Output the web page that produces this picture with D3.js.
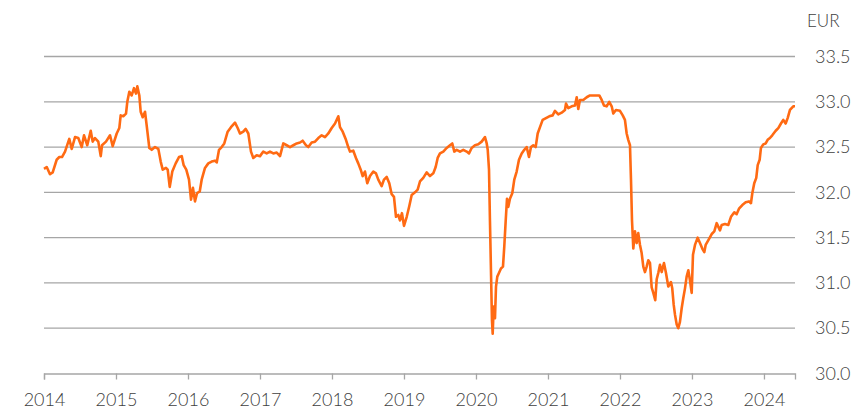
<!DOCTYPE html>
<html>
<head>
<meta charset="utf-8">
<script src="https://cdn.jsdelivr.net/npm/d3@7"></script>
<style>
  body { margin: 0; background: #fff; }
  text { font-family: Lato, "Open Sans", sans-serif; font-weight: 300; fill: #404040; }
</style>
</head>
<body>
<script>
var width = 868;
var height = 412;

// decimal year of each reading
var years = [
  2014.000, 2014.038, 2014.083, 2014.121, 2014.176, 2014.213, 2014.250, 2014.292, 2014.351, 2014.385,
  2014.431, 2014.476, 2014.524, 2014.556, 2014.601, 2014.649, 2014.676, 2014.708, 2014.754, 2014.788,
  2014.806, 2014.861, 2014.917, 2014.954, 2015.010, 2015.046, 2015.065, 2015.101, 2015.139, 2015.157,
  2015.185, 2015.218, 2015.250, 2015.278, 2015.296, 2015.324, 2015.343, 2015.371, 2015.403, 2015.426,
  2015.463, 2015.496, 2015.542, 2015.588, 2015.621, 2015.649, 2015.694, 2015.718, 2015.746, 2015.782,
  2015.829, 2015.875, 2015.913, 2015.940, 2015.976, 2016.014, 2016.042, 2016.069, 2016.097, 2016.125,
  2016.163, 2016.190, 2016.236, 2016.282, 2016.329, 2016.375, 2016.399, 2016.431, 2016.468, 2016.504,
  2016.551, 2016.597, 2016.653, 2016.690, 2016.722, 2016.768, 2016.801, 2016.838, 2016.875, 2016.907,
  2016.954, 2017.000, 2017.046, 2017.093, 2017.139, 2017.185, 2017.232, 2017.278, 2017.324, 2017.371,
  2017.417, 2017.463, 2017.510, 2017.556, 2017.593, 2017.639, 2017.671, 2017.718, 2017.764, 2017.810,
  2017.857, 2017.903, 2017.949, 2017.996, 2018.042, 2018.088, 2018.111, 2018.149, 2018.194, 2018.226,
  2018.250, 2018.296, 2018.333, 2018.365, 2018.399, 2018.426, 2018.458, 2018.490, 2018.528, 2018.574,
  2018.611, 2018.643, 2018.690, 2018.722, 2018.760, 2018.796, 2018.829, 2018.861, 2018.889, 2018.921,
  2018.944, 2018.972, 2019.000, 2019.038, 2019.074, 2019.107, 2019.153, 2019.190, 2019.222, 2019.268,
  2019.315, 2019.361, 2019.407, 2019.440, 2019.468, 2019.500, 2019.546, 2019.593, 2019.639, 2019.671,
  2019.699, 2019.732, 2019.778, 2019.824, 2019.871, 2019.903, 2019.940, 2019.986, 2020.032, 2020.079,
  2020.125, 2020.149, 2020.163, 2020.181, 2020.194, 2020.208, 2020.222, 2020.232, 2020.246, 2020.264,
  2020.278, 2020.296, 2020.319, 2020.347, 2020.375, 2020.393, 2020.413, 2020.431, 2020.449, 2020.472,
  2020.504, 2020.532, 2020.565, 2020.597, 2020.635, 2020.671, 2020.704, 2020.736, 2020.764, 2020.796,
  2020.829, 2020.857, 2020.889, 2020.926, 2020.972, 2021.018, 2021.065, 2021.097, 2021.143, 2021.190,
  2021.236, 2021.250, 2021.282, 2021.329, 2021.375, 2021.399, 2021.421, 2021.444, 2021.490, 2021.538,
  2021.583, 2021.629, 2021.676, 2021.713, 2021.746, 2021.778, 2021.815, 2021.851, 2021.885, 2021.907,
  2021.944, 2022.000, 2022.038, 2022.069, 2022.093, 2022.115, 2022.139, 2022.153, 2022.167, 2022.185,
  2022.208, 2022.232, 2022.254, 2022.278, 2022.301, 2022.324, 2022.347, 2022.371, 2022.393, 2022.417,
  2022.440, 2022.463, 2022.490, 2022.510, 2022.532, 2022.556, 2022.579, 2022.611, 2022.639, 2022.671,
  2022.708, 2022.726, 2022.746, 2022.764, 2022.788, 2022.810, 2022.833, 2022.857, 2022.879, 2022.903,
  2022.926, 2022.949, 2022.972, 2022.996, 2023.014, 2023.042, 2023.079, 2023.111, 2023.143, 2023.171,
  2023.190, 2023.226, 2023.274, 2023.310, 2023.343, 2023.389, 2023.413, 2023.458, 2023.504, 2023.542,
  2023.588, 2023.621, 2023.653, 2023.699, 2023.746, 2023.792, 2023.819, 2023.838, 2023.865, 2023.893,
  2023.913, 2023.940, 2023.958, 2023.990, 2024.024, 2024.051, 2024.083, 2024.115, 2024.163, 2024.199,
  2024.236, 2024.268, 2024.301, 2024.329, 2024.361, 2024.407, 2024.431
];

// price in EUR
var prices = [
  32.26, 32.28, 32.20, 32.22, 32.36, 32.39, 32.39, 32.45, 32.59, 32.48,
  32.61, 32.60, 32.50, 32.63, 32.52, 32.68, 32.56, 32.60, 32.56, 32.40,
  32.52, 32.56, 32.63, 32.51, 32.65, 32.71, 32.85, 32.84, 32.87, 33.00,
  33.11, 33.07, 33.15, 33.09, 33.17, 33.07, 32.89, 32.83, 32.89, 32.74,
  32.49, 32.47, 32.50, 32.48, 32.34, 32.25, 32.27, 32.25, 32.06, 32.23,
  32.32, 32.39, 32.40, 32.30, 32.25, 32.14, 31.92, 32.05, 31.90, 31.99,
  32.01, 32.14, 32.27, 32.32, 32.34, 32.35, 32.33, 32.47, 32.50, 32.54,
  32.67, 32.72, 32.77, 32.71, 32.65, 32.67, 32.70, 32.65, 32.45, 32.38,
  32.41, 32.40, 32.45, 32.43, 32.45, 32.43, 32.44, 32.40, 32.54, 32.52,
  32.50, 32.52, 32.54, 32.55, 32.57, 32.52, 32.50, 32.55, 32.56, 32.60,
  32.63, 32.61, 32.65, 32.71, 32.76, 32.84, 32.72, 32.67, 32.58, 32.50,
  32.45, 32.46, 32.38, 32.32, 32.25, 32.18, 32.23, 32.10, 32.18, 32.23,
  32.21, 32.14, 32.07, 32.14, 32.17, 32.10, 31.98, 31.95, 31.73, 31.75,
  31.69, 31.77, 31.63, 31.73, 31.85, 31.97, 32.00, 32.03, 32.12, 32.16,
  32.22, 32.18, 32.21, 32.28, 32.38, 32.43, 32.45, 32.49, 32.52, 32.54,
  32.45, 32.47, 32.45, 32.47, 32.45, 32.43, 32.49, 32.52, 32.53, 32.56,
  32.61, 32.54, 32.47, 32.25, 31.69, 31.14, 30.59, 30.44, 30.74, 30.61,
  30.96, 31.07, 31.11, 31.16, 31.18, 31.40, 31.69, 31.93, 31.84, 31.93,
  31.99, 32.14, 32.23, 32.36, 32.43, 32.47, 32.50, 32.39, 32.50, 32.52,
  32.50, 32.65, 32.72, 32.80, 32.82, 32.84, 32.85, 32.90, 32.86, 32.88,
  32.91, 32.98, 32.93, 32.95, 32.96, 33.05, 32.92, 33.02, 33.02, 33.05,
  33.07, 33.07, 33.07, 33.07, 33.02, 32.96, 32.95, 33.00, 32.95, 32.87,
  32.91, 32.90, 32.85, 32.80, 32.65, 32.58, 32.52, 32.14, 31.69, 31.38,
  31.57, 31.44, 31.55, 31.42, 31.33, 31.18, 31.12, 31.18, 31.25, 31.22,
  30.95, 30.89, 30.81, 31.04, 31.11, 31.20, 31.12, 31.22, 31.11, 30.96,
  31.01, 30.94, 30.76, 30.65, 30.54, 30.50, 30.57, 30.72, 30.83, 30.94,
  31.07, 31.14, 31.03, 30.89, 31.31, 31.42, 31.50, 31.44, 31.38, 31.34,
  31.42, 31.47, 31.54, 31.57, 31.66, 31.58, 31.64, 31.65, 31.64, 31.73,
  31.78, 31.76, 31.82, 31.86, 31.89, 31.90, 31.88, 31.99, 32.10, 32.16,
  32.30, 32.36, 32.49, 32.53, 32.54, 32.58, 32.60, 32.63, 32.68, 32.71,
  32.76, 32.80, 32.76, 32.82, 32.91, 32.95, 32.95
];

var yearTicks = [2014, 2015, 2016, 2017, 2018, 2019, 2020, 2021, 2022, 2023, 2024];
var valueTicks = [30.0, 30.5, 31.0, 31.5, 32.0, 32.5, 33.0, 33.5];

var data = years.map(function(t, i) { return {t: t, v: prices[i]}; });

var svg = d3.select('body')
    .append('svg')
    .attr('width', width)
    .attr('height', height);

var x = d3.scaleLinear()
    .domain([2014, 2024.431])
    .range([44, 795]);

var y = d3.scaleLinear()
    .domain([30, 33.5])
    .range([373.5, 56.5]);

// horizontal grid lines
svg.append('g')
    .selectAll('line')
    .data(valueTicks.filter(function(d) { return d > 30; }))
    .enter()
    .append('line')
    .attr('x1', x.range()[0])
    .attr('x2', x.range()[1])
    .attr('y1', d => y(d))
    .attr('y2', d => y(d))
    .attr('stroke', '#a6a6a6')
    .attr('stroke-width', 1.3);

// x axis
var xAxis = svg.append('g')
    .attr('transform', 'translate(0,' + y(30) + ')')
    .call(d3.axisBottom(x)
        .tickValues(yearTicks)
        .tickFormat(d3.format('d'))
        .tickSize(6)
        .tickPadding(14));

xAxis.select('.domain').attr('stroke', '#a6a6a6').attr('stroke-width', 1.3);
xAxis.selectAll('.tick line').attr('stroke', '#a6a6a6').attr('stroke-width', 1.3);
xAxis.selectAll('.tick text')
    .attr('font-size', 18)
    .style('font-family', 'Lato, sans-serif')
    .attr('fill', '#404040');

// y axis labels on the right
var yAxis = svg.append('g')
    .attr('transform', 'translate(795,0)')
    .call(d3.axisRight(y)
        .tickValues(valueTicks)
        .tickFormat(d3.format('.1f'))
        .tickSize(0)
        .tickPadding(20));

yAxis.select('.domain').remove();
yAxis.selectAll('.tick text')
    .attr('font-size', 18)
    .style('font-family', 'Lato, sans-serif')
    .attr('fill', '#404040');

svg.append('text')
    .attr('x', 807)
    .attr('y', 27)
    .attr('font-size', 17)
    .text('EUR');

var line = d3.line()
    .x(d => x(d.t))
    .y(d => y(d.v));

svg.append('path')
    .datum(data)
    .attr('fill', 'none')
    .attr('stroke', '#ff6a13')
    .attr('stroke-width', 2.6)
    .attr('stroke-linejoin', 'round')
    .attr('d', line);
</script>
</body>
</html>
